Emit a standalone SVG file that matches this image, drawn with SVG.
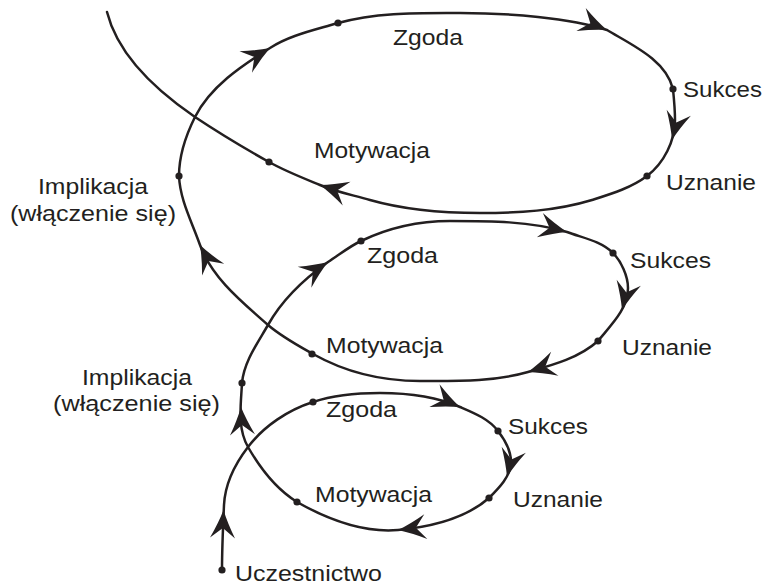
<svg xmlns="http://www.w3.org/2000/svg" width="764" height="586" viewBox="0 0 764 586">
  <style>
    .lbl { font-family: "Liberation Sans", Arial, sans-serif; font-size: 22.5px; fill: #231f20; }
    .dot { fill: #231f20; }
    .spiral { fill: none; stroke: #231f20; stroke-width: 2.5; stroke-linecap: round; stroke-linejoin: round; }
    .head { fill: #231f20; }
  </style>
  <defs>
    <!-- barbed arrowhead, tip at origin pointing along +x -->
    <path id="ah" d="M0,0 Q-13,-4.5 -28,-12.5 L-18,0 L-28,12.5 Q-13,4.5 0,0 Z"/>
  </defs>
  <rect width="764" height="586" fill="#ffffff"/>

  <g id="connectors">
    <path class="spiral" d="M222,570
      C222,548 223,527 224,505
      C225,484 235,464 248,447
      C264,426 288,410 313,402
      C334,395 357,393 380,393
      C407,393 435,396 460,407
      C474,413 489,419 498,431
      C505,440 511,451 511,462
      C511,476 499,488 489,498
      C465,519 430,527 398,530
      C363,533 327,519 297,502
      C276,489 260,468 248,447
      C237,428 241,404 242,383
      C244,362 257,344 268,325
      C282,300 304,279 328,262
      C339,255 350,246 361,241
      C388,228 420,221 450,221
      C489,221 530,221 567,232
      C583,238 601,241 613,253
      C621,261 628,276 628,288
      C628,309 611,325 598,341
      C579,358 553,365 528,372
      C493,382 456,381 420,381
      C383,381 345,372 313,354
      C297,345 282,337 268,325
      C242,302 212,278 200,245
      C192,222 180,200 179,176
      C179,156 186,135 195,117
      C210,87 241,66 270,48
      C290,35 315,30 338,23
      C377,12 419,13 460,13
      C509,13 570,18 607,30
      C632,45 666,60 673,89
      C674,99 675,110 675,120
      C675,141 664,163 647,176
      C631,188 611,194 592,200
      C556,211 518,213 480,213
      C443,213 405,210 370,200
      C353,195 336,192 320,185
      C303,178 285,171 269,162
      C244,148 219,133 195,117
      C157,91 118,56 107,12"/>
    <g class="head">
      <use href="#ah" transform="translate(223.5,510) rotate(-88)"/>
      <use href="#ah" transform="translate(460,407) rotate(24)"/>
      <use href="#ah" transform="translate(507,477) rotate(104)"/>
      <use href="#ah" transform="translate(398,530) rotate(173)"/>
      <use href="#ah" transform="translate(241,407) rotate(-93)"/>
      <use href="#ah" transform="translate(328,262) rotate(-33)"/>
      <use href="#ah" transform="translate(567,232) rotate(14)"/>
      <use href="#ah" transform="translate(622,310) rotate(104)"/>
      <use href="#ah" transform="translate(528,372) rotate(163)"/>
      <use href="#ah" transform="translate(200,245) rotate(-118)"/>
      <use href="#ah" transform="translate(270,48) rotate(-30)"/>
      <use href="#ah" transform="translate(607,30) rotate(22)"/>
      <use href="#ah" transform="translate(672,140) rotate(104)"/>
      <use href="#ah" transform="translate(320,185) rotate(198)"/>
    </g>
  </g>

  <!-- lower loop -->
  <g id="uczestnictwo">
    <circle class="dot" cx="222" cy="570" r="3.6"/>
    <text class="lbl" x="235" y="581" textLength="147" lengthAdjust="spacingAndGlyphs">Uczestnictwo</text>
  </g>
  <g id="zgoda-1">
    <circle class="dot" cx="313" cy="402" r="3.6"/>
    <text class="lbl" x="326" y="417" textLength="71" lengthAdjust="spacingAndGlyphs">Zgoda</text>
  </g>
  <g id="sukces-1">
    <circle class="dot" cx="498" cy="431" r="3.6"/>
    <text class="lbl" x="508" y="434" textLength="80" lengthAdjust="spacingAndGlyphs">Sukces</text>
  </g>
  <g id="uznanie-1">
    <circle class="dot" cx="489" cy="498" r="3.6"/>
    <text class="lbl" x="513" y="507" textLength="90" lengthAdjust="spacingAndGlyphs">Uznanie</text>
  </g>
  <g id="motywacja-1">
    <circle class="dot" cx="297" cy="502" r="3.6"/>
    <text class="lbl" x="315" y="502" textLength="117" lengthAdjust="spacingAndGlyphs">Motywacja</text>
  </g>

  <!-- middle loop -->
  <g id="implikacja-2">
    <circle class="dot" cx="242" cy="383" r="3.6"/>
    <text class="lbl" x="82" y="385" textLength="110" lengthAdjust="spacingAndGlyphs">Implikacja</text>
    <text class="lbl" x="53" y="411" textLength="167" lengthAdjust="spacingAndGlyphs">(włączenie się)</text>
  </g>
  <g id="zgoda-2">
    <circle class="dot" cx="361" cy="241" r="3.6"/>
    <text class="lbl" x="367" y="263" textLength="71" lengthAdjust="spacingAndGlyphs">Zgoda</text>
  </g>
  <g id="sukces-2">
    <circle class="dot" cx="613" cy="253" r="3.6"/>
    <text class="lbl" x="630" y="268" textLength="81" lengthAdjust="spacingAndGlyphs">Sukces</text>
  </g>
  <g id="uznanie-2">
    <circle class="dot" cx="598" cy="341" r="3.6"/>
    <text class="lbl" x="622" y="355" textLength="90" lengthAdjust="spacingAndGlyphs">Uznanie</text>
  </g>
  <g id="motywacja-2">
    <circle class="dot" cx="312" cy="354" r="3.6"/>
    <text class="lbl" x="326" y="353" textLength="117" lengthAdjust="spacingAndGlyphs">Motywacja</text>
  </g>

  <!-- upper loop -->
  <g id="implikacja-1">
    <circle class="dot" cx="179" cy="176" r="3.6"/>
    <text class="lbl" x="38" y="194" textLength="110" lengthAdjust="spacingAndGlyphs">Implikacja</text>
    <text class="lbl" x="10" y="221" textLength="166" lengthAdjust="spacingAndGlyphs">(włączenie się)</text>
  </g>
  <g id="zgoda-3">
    <circle class="dot" cx="338" cy="23" r="3.6"/>
    <text class="lbl" x="393" y="45" textLength="70" lengthAdjust="spacingAndGlyphs">Zgoda</text>
  </g>
  <g id="sukces-3">
    <circle class="dot" cx="673" cy="89" r="3.6"/>
    <text class="lbl" x="683" y="97" textLength="79" lengthAdjust="spacingAndGlyphs">Sukces</text>
  </g>
  <g id="uznanie-3">
    <circle class="dot" cx="647" cy="176" r="3.6"/>
    <text class="lbl" x="666" y="190" textLength="90" lengthAdjust="spacingAndGlyphs">Uznanie</text>
  </g>
  <g id="motywacja-3">
    <circle class="dot" cx="269" cy="162" r="3.6"/>
    <text class="lbl" x="314" y="158" textLength="116" lengthAdjust="spacingAndGlyphs">Motywacja</text>
  </g>
</svg>
